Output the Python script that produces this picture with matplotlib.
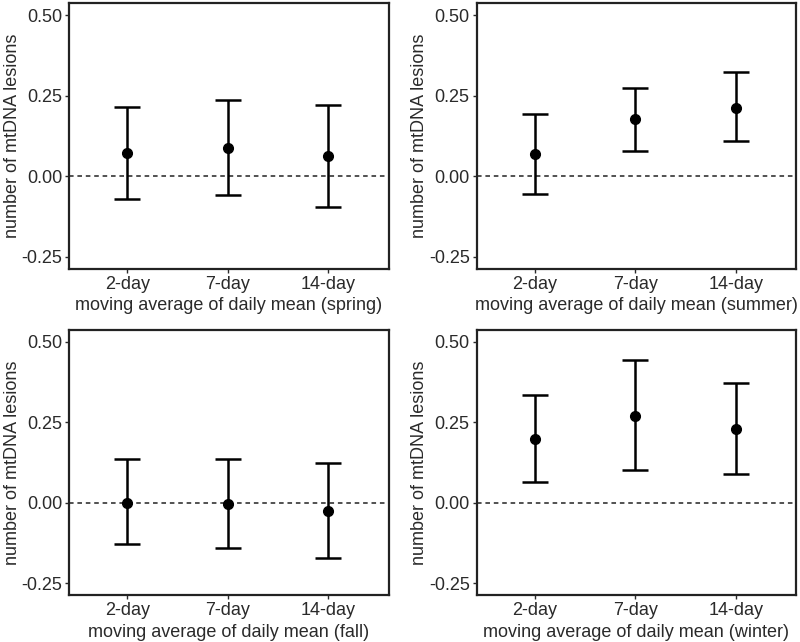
import matplotlib
matplotlib.use("Agg")
from matplotlib import pyplot as plt

plt.rcParams["font.family"] = ["Liberation Sans", "DejaVu Sans"]

windows = ["2-day", "7-day", "14-day"]
seasons = ["spring", "summer", "fall", "winter"]

# point estimates and 95% CI per season (2-day, 7-day, 14-day)
est = {
    "spring": [0.072, 0.086, 0.062],
    "summer": [0.068, 0.176, 0.213],
    "fall":   [0.000, -0.003, -0.027],
    "winter": [0.197, 0.270, 0.230],
}
lower = {
    "spring": [-0.070, -0.058, -0.095],
    "summer": [-0.055, 0.078, 0.108],
    "fall":   [-0.128, -0.140, -0.173],
    "winter": [0.065, 0.101, 0.090],
}
upper = {
    "spring": [0.215, 0.236, 0.222],
    "summer": [0.192, 0.275, 0.322],
    "fall":   [0.135, 0.135, 0.122],
    "winter": [0.333, 0.443, 0.373],
}

fig, axes = plt.subplots(2, 2, figsize=(8, 6.42), dpi=100)
plt.subplots_adjust(left=0.0865, right=0.995, top=0.995, bottom=0.073,
                    wspace=0.276, hspace=0.23)

txt = "#2a2a2a"
x = [1, 2, 3]
for ax, s in zip(axes.flat, seasons):
    m = est[s]
    err = [[m[i] - lower[s][i] for i in range(3)],
           [upper[s][i] - m[i] for i in range(3)]]
    ax.axhline(0, color="#222222", linestyle=(0, (3, 2.5)), linewidth=1.1)
    ax.errorbar(x, m, yerr=err, fmt="o", color="black", markersize=7,
                elinewidth=1.8, capsize=9.5, capthick=1.8)
    ax.set_xlim(0.42, 3.6)
    ax.set_ylim(-0.287, 0.537)
    ax.set_xticks(x)
    ax.set_xticklabels(windows)
    ax.set_yticks([-0.25, 0, 0.25, 0.5])
    ax.set_yticklabels(["-0.25", "0.00", "0.25", "0.50"])
    ax.tick_params(labelsize=13, colors=txt, length=3, width=1, pad=2)
    ax.set_xlabel("moving average of daily mean (%s)" % s, fontsize=13,
                  color=txt, labelpad=3.5)
    ax.set_ylabel("number of mtDNA lesions", fontsize=13, color=txt)
    ax.yaxis.set_label_coords(-0.152, 0.5)
    for sp in ax.spines.values():
        sp.set_linewidth(1.6)
        sp.set_color("#222222")

plt.savefig("out.png", dpi=100)
